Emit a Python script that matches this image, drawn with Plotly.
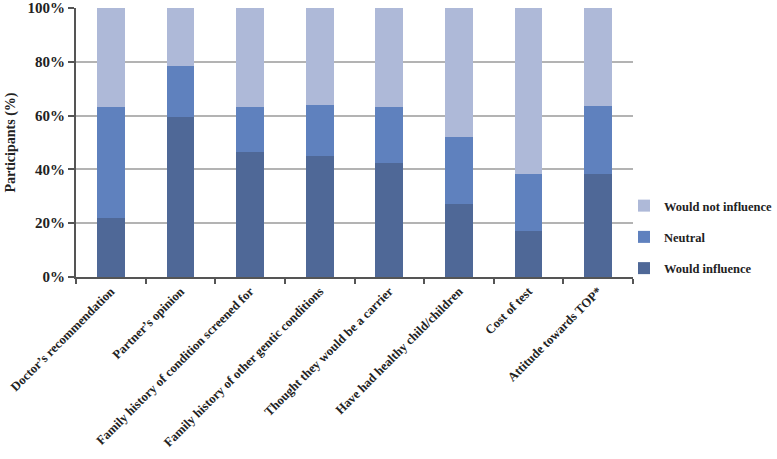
import plotly.graph_objects as go

categories = ["Doctor’s recommendation", "Partner’s opinion", "Family history of condition screened for",
              "Family history of other gentic conditions", "Thought they would be a carrier",
              "Have had healthy child/children", "Cost of test", "Attitude towards TOP*"]
would_influence = [22.1, 59.4, 46.3, 44.8, 42.3, 27.2, 17.2, 38.4]
neutral = [41.0, 19.0, 16.9, 19.0, 20.8, 25.0, 21.2, 25.1]
would_not_influence = [36.9, 21.6, 36.8, 36.2, 36.9, 47.8, 61.6, 36.5]
y_ticks = [0, 20, 40, 60, 80, 100]
y_tick_labels = ["<b>0%</b>", "<b>20%</b>", "<b>40%</b>", "<b>60%</b>", "<b>80%</b>", "<b>100%</b>"]

FONT = "Liberation Serif"
fig = go.Figure()
series = [("Would influence", would_influence, "#4F6897"),
          ("Neutral", neutral, "#5F81BE"),
          ("Would not influence", would_not_influence, "#AEB9D8")]
for i, (name, vals, col) in enumerate(series):
    fig.add_trace(go.Bar(x=categories, y=vals, name="<b>" + name + "</b>", marker_color=col,
                         marker_line_width=0, legendgroup=str(i), legendrank=10 - i))

T, B = 8, 182
fig.update_layout(
    barmode="stack", bargap=0.6,
    width=777, height=459,
    margin=dict(l=76, r=144, t=T, b=B, autoexpand=False),
    plot_bgcolor="white", paper_bgcolor="white",
    font=dict(family=FONT, size=13, color="#222"),
    legend=dict(traceorder="grouped", x=(624 - 76) / 557, y=(459 - B - 237) / (459 - T - B),
                yanchor="middle", xanchor="left", bgcolor="rgba(0,0,0,0)",
                tracegroupgap=12, font=dict(size=12.5, family=FONT, color="#222"),
                itemwidth=30),
    showlegend=True,
)
fig.update_xaxes(showline=True, linecolor="#555", linewidth=2, ticks="outside", tickson="boundaries",
                 ticklen=5, tickcolor="#555", tickwidth=1.5, tickangle=-45, automargin=False,
                 tickvals=categories, ticktext=["<b>" + c + "</b>" for c in categories],
                 tickfont=dict(size=12.7, family=FONT, color="#222"))
fig.update_yaxes(range=[0, 100], tickvals=y_ticks, ticktext=y_tick_labels, showline=True,
                 linecolor="#555", linewidth=2, ticks="outside", ticklen=6, tickcolor="#555",
                 tickwidth=1.5, gridcolor="#B3B3B3", gridwidth=1.5, automargin=False,
                 ticklabeloverflow="allow",
                 tickfont=dict(size=15, family=FONT, color="#222"),
                 title=dict(text="<b>Participants (%)</b>", font=dict(size=14, family=FONT), standoff=9))
fig.write_html("out.html", config={"displayModeBar": False},
               post_script="document.body.style.margin='0px';")
